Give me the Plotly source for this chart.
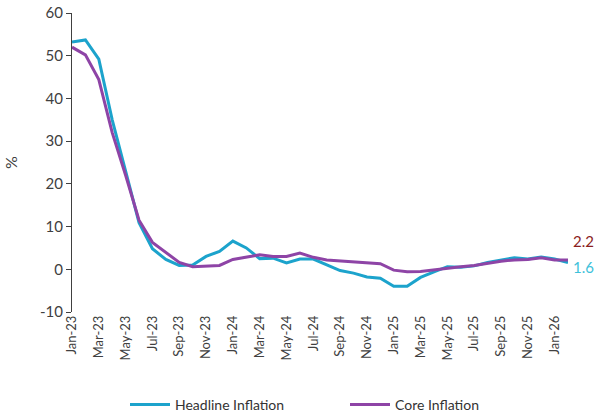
import plotly.graph_objects as go

# Monthly series, Jan-23 to Feb-26
months = ["Jan-23", "Feb-23", "Mar-23", "Apr-23", "May-23", "Jun-23", "Jul-23", "Aug-23",
          "Sep-23", "Oct-23", "Nov-23", "Dec-23", "Jan-24", "Feb-24", "Mar-24", "Apr-24",
          "May-24", "Jun-24", "Jul-24", "Aug-24", "Sep-24", "Oct-24", "Nov-24", "Dec-24",
          "Jan-25", "Feb-25", "Mar-25", "Apr-25", "May-25", "Jun-25", "Jul-25", "Aug-25",
          "Sep-25", "Oct-25", "Nov-25", "Dec-25", "Jan-26", "Feb-26"]

headline = [53.2, 53.7, 49.2, 35.0, 23.0, 10.9, 4.8, 2.3, 0.9, 1.0, 3.0, 4.2, 6.6, 5.0,
            2.5, 2.6, 1.5, 2.4, 2.4, 1.1, -0.3, -0.9, -1.8, -2.1, -4.0, -4.0, -1.9, -0.6,
            0.6, 0.5, 0.8, 1.6, 2.1, 2.7, 2.4, 2.9, 2.4, 1.6]

core = [52.0, 50.2, 44.4, 32.0, 22.0, 11.5, 6.3, 4.0, 1.6, 0.6, 0.7, 0.9, 2.3, 2.9,
        3.4, 3.0, 3.0, 3.8, 2.8, 2.2, 2.0, 1.7, 1.5, 1.3, -0.2, -0.6, -0.5, -0.1,
        0.3, 0.6, 0.9, 1.4, 1.9, 2.2, 2.3, 2.7, 2.2, 2.2]

tick_labels = months[0:37:2]
y_ticks = [-10, 0, 10, 20, 30, 40, 50, 60]
y_tick_text = [str(v) for v in y_ticks]  # plain hyphen for negatives

CYAN = "#1CA3CC"
PURPLE = "#8E44A6"
GREY = "#404040"
FONT = "Lato"

fig = go.Figure()
fig.add_trace(go.Scatter(x=months, y=headline, mode="lines", name="Headline Inflation",
                         line=dict(color=CYAN, width=3)))
fig.add_trace(go.Scatter(x=months, y=core, mode="lines", name="Core Inflation",
                         line=dict(color=PURPLE, width=3)))

# Latest-value labels at the right end
fig.add_annotation(x=months[-1], y=core[-1], text=f"{core[-1]:.1f}", showarrow=False,
                   xanchor="left", yanchor="middle", xshift=3, yshift=19,
                   font=dict(family=FONT, size=15, color="#8B1E1E"))
fig.add_annotation(x=months[-1], y=headline[-1], text=f"{headline[-1]:.1f}", showarrow=False,
                   xanchor="left", yanchor="middle", xshift=3, yshift=-5,
                   font=dict(family=FONT, size=15, color="#3EC1DA"))

fig.update_layout(
    width=602, height=416,
    margin=dict(l=72, r=34, t=13, b=104, autoexpand=False),
    paper_bgcolor="white", plot_bgcolor="white",
    font=dict(family=FONT, color=GREY),
    showlegend=True,
    legend=dict(orientation="h", xref="container", yref="container",
                x=125 / 602, xanchor="left", y=11 / 416, yanchor="middle",
                font=dict(family=FONT, size=14, color="#333333"),
                itemwidth=40, tracegroupgap=0,
                entrywidth=165, entrywidthmode="pixels"),
    xaxis=dict(type="category", categoryorder="array", categoryarray=months,
               range=[0, len(months) - 1], tickmode="array", tickvals=tick_labels,
               ticktext=tick_labels, tickangle=-90, ticks="", showline=False,
               showgrid=False, zeroline=False, automargin=False,
               tickfont=dict(family=FONT, size=13, color=GREY)),
    # month tick marks along the zero line
    xaxis2=dict(overlaying="x", anchor="free", position=10 / 70, side="bottom",
                type="linear", range=[0, len(months) - 1], tickmode="linear", tick0=0,
                dtick=1, ticks="outside", ticklen=5, tickcolor=GREY, tickwidth=1,
                showticklabels=False, showline=True, linecolor="#808080", linewidth=2,
                showgrid=False, zeroline=False, automargin=False),
    yaxis=dict(range=[-10, 60], tickmode="array", tickvals=y_ticks, ticktext=y_tick_text,
               ticks="outside", ticklen=5, tickcolor=GREY, showline=True, linecolor=GREY,
               linewidth=1, showgrid=False, zeroline=False, automargin=False,
               title=dict(text="%", font=dict(family=FONT, size=16, color=GREY), standoff=18),
               tickfont=dict(family=FONT, size=15, color=GREY)),
)

fig.write_html("out.html")
